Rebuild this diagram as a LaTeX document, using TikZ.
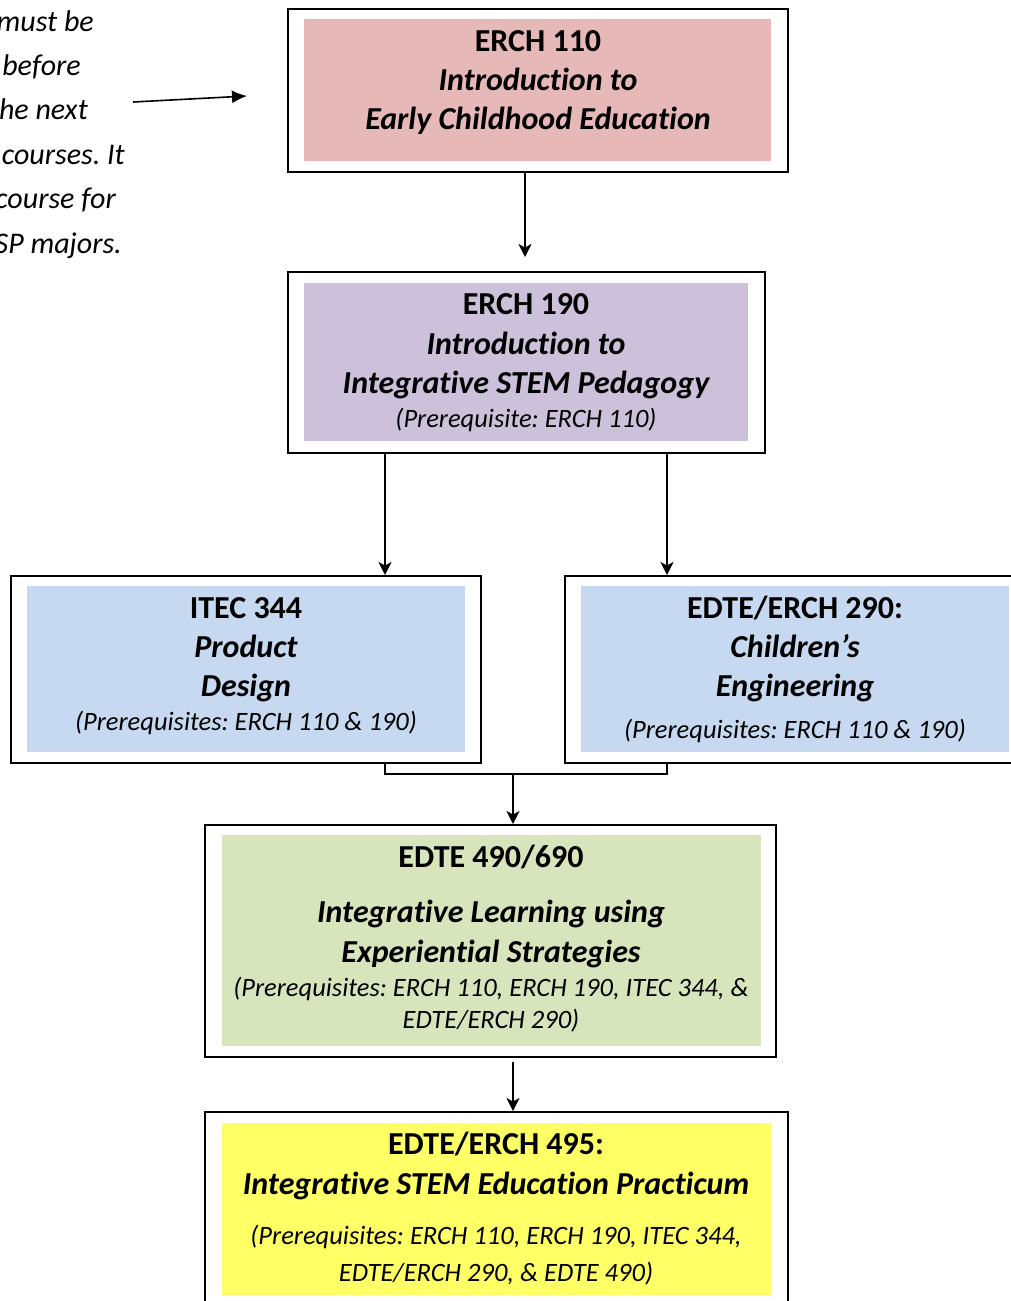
\documentclass[tikz,border=0pt]{standalone}
\usepackage{fontspec}
\setmainfont{Carlito}[Ligatures=NoCommon]
\usetikzlibrary{arrows.meta}
\definecolor{cpink}{HTML}{E6B8B7}
\definecolor{cpurple}{HTML}{CCC0DA}
\definecolor{cblue}{HTML}{C6D9F1}
\definecolor{cgreen}{HTML}{D8E4BC}
\definecolor{cyellow}{HTML}{FFFF66}
\frenchspacing
\begin{document}
\begin{tikzpicture}[x=1pt,y=-1pt,
  outerbox/.style={draw=black, line width=2pt, inner sep=0pt},
  innerfill/.style={draw=none, inner sep=0pt},
  ln/.style={anchor=base, inner sep=0pt},
  tbold/.style={ln, font=\fontsize{32}{38}\selectfont\bfseries},
  tbi/.style={ln, font=\fontsize{32}{38}\selectfont\bfseries\itshape},
  tpre/.style={ln, font=\fontsize{26.5}{31}\selectfont\itshape},
  note/.style={anchor=base east, inner sep=0pt, font=\fontsize{30}{36}\selectfont\itshape},
  arr/.style={line width=1.6pt, -{Stealth[length=13pt,width=13pt,inset=3.5pt]}},
  larr/.style={line width=1.6pt, -{Latex[length=15pt,width=13pt]}},
  conn/.style={line width=1.6pt}]
\useasboundingbox (0,0) rectangle (1011,1301);
\clip (0,0) rectangle (1011,1301);

% side note
\node[note] (n1) at (94,31) {must be};
\node[note] (n2) at (81,75) {before};
\node[note] (n3) at (88,119) {the next};
\node[note] (n4) at (125,164) {courses. It};
\node[note] (n5) at (116,208) {course for};
\node[note] (n6) at (122,253) {SP majors.};
\coordinate (na) at (133,102);
\coordinate (nb) at (247,96);
\draw[larr] (na) -- (nb);

% boxes
\node[innerfill, fill=cpink, minimum width=467, minimum height=142] (f1) at (537.5,90) {};
\node[outerbox, minimum width=500, minimum height=163] (b1) at (538,90.5) {};
\node[innerfill, fill=cpurple, minimum width=444, minimum height=158] (f2) at (526,362) {};
\node[outerbox, minimum width=477, minimum height=181] (b2) at (526.5,362.5) {};
\node[innerfill, fill=cblue, minimum width=438, minimum height=166] (f3) at (246,669) {};
\node[outerbox, minimum width=470, minimum height=187] (b3) at (246,669.5) {};
\node[innerfill, fill=cblue, minimum width=428, minimum height=166] (f4) at (795,669) {};
\node[outerbox, minimum width=460, minimum height=187] (b4) at (795,669.5) {};
\node[innerfill, fill=cgreen, minimum width=539, minimum height=211] (f5) at (491.5,940.5) {};
\node[outerbox, minimum width=571, minimum height=232] (b5) at (490.5,941) {};
\node[innerfill, fill=cyellow, minimum width=549, minimum height=172] (f6) at (496.5,1209) {};
\node[outerbox, minimum width=583, minimum height=194] (b6) at (496.5,1209) {};

% texts box 1
\node[tbold] (t1a) at (538,51) {ERCH 110};
\node[tbi] (t1b) at (538,90) {Introduction to};
\node[tbi] (t1c) at (538,129) {Early Childhood Education};
% box 2
\node[tbold] (t2a) at (526,314) {ERCH 190};
\node[tbi] (t2b) at (526,354) {Introduction to};
\node[tbi] (t2c) at (526,393) {Integrative STEM Pedagogy};
\node[tpre] (t2d) at (526,427) {(Prerequisite: ERCH 110)};
% box 3
\node[tbold] (t3a) at (246,618) {ITEC 344};
\node[tbi] (t3b) at (246,657) {Product};
\node[tbi] (t3c) at (246,696) {Design};
\node[tpre] (t3d) at (246,730) {(Prerequisites: ERCH 110 \& 190)};
% box 4
\node[tbold] (t4a) at (795,618) {EDTE/ERCH 290:};
\node[tbi] (t4b) at (795,657) {Children’s};
\node[tbi] (t4c) at (795,696) {Engineering};
\node[tpre] (t4d) at (795,738) {(Prerequisites: ERCH 110 \& 190)};
% box 5
\node[tbold] (t5a) at (491,867) {EDTE 490/690};
\node[tbi] (t5b) at (491,922) {Integrative Learning using};
\node[tbi] (t5c) at (491,962) {Experiential Strategies};
\node[tpre] (t5d) at (491,996) {(Prerequisites: ERCH 110, ERCH 190, ITEC 344, \&};
\node[tpre] (t5e) at (491,1028) {EDTE/ERCH 290)};
% box 6
\node[tbold] (t6a) at (496,1154) {EDTE/ERCH 495:};
\node[tbi] (t6b) at (496,1194) {Integrative STEM Education Practicum};
\node[tpre] (t6c) at (496,1244) {(Prerequisites: ERCH 110, ERCH 190, ITEC 344,};
\node[tpre] (t6d) at (496,1281) {EDTE/ERCH 290, \& EDTE 490)};

% connectors
\coordinate (x12) at (525,257);
\coordinate (xa) at (385,0);
\coordinate (xb) at (667,0);
\coordinate (j) at (513,774);
\draw[arr] (b1.south -| x12) -- (x12);
\draw[arr] (b2.south -| xa) -- (b3.north -| xa);
\draw[arr] (b2.south -| xb) -- (b4.north -| xb);
\draw[conn] (b3.south -| xa) |- (j) -| (b4.south -| xb);
\draw[arr] (j) -- (b5.north -| j);
\draw[arr] ([yshift=-4pt]b5.south -| j) -- (b6.north -| j);
\end{tikzpicture}
\end{document}
